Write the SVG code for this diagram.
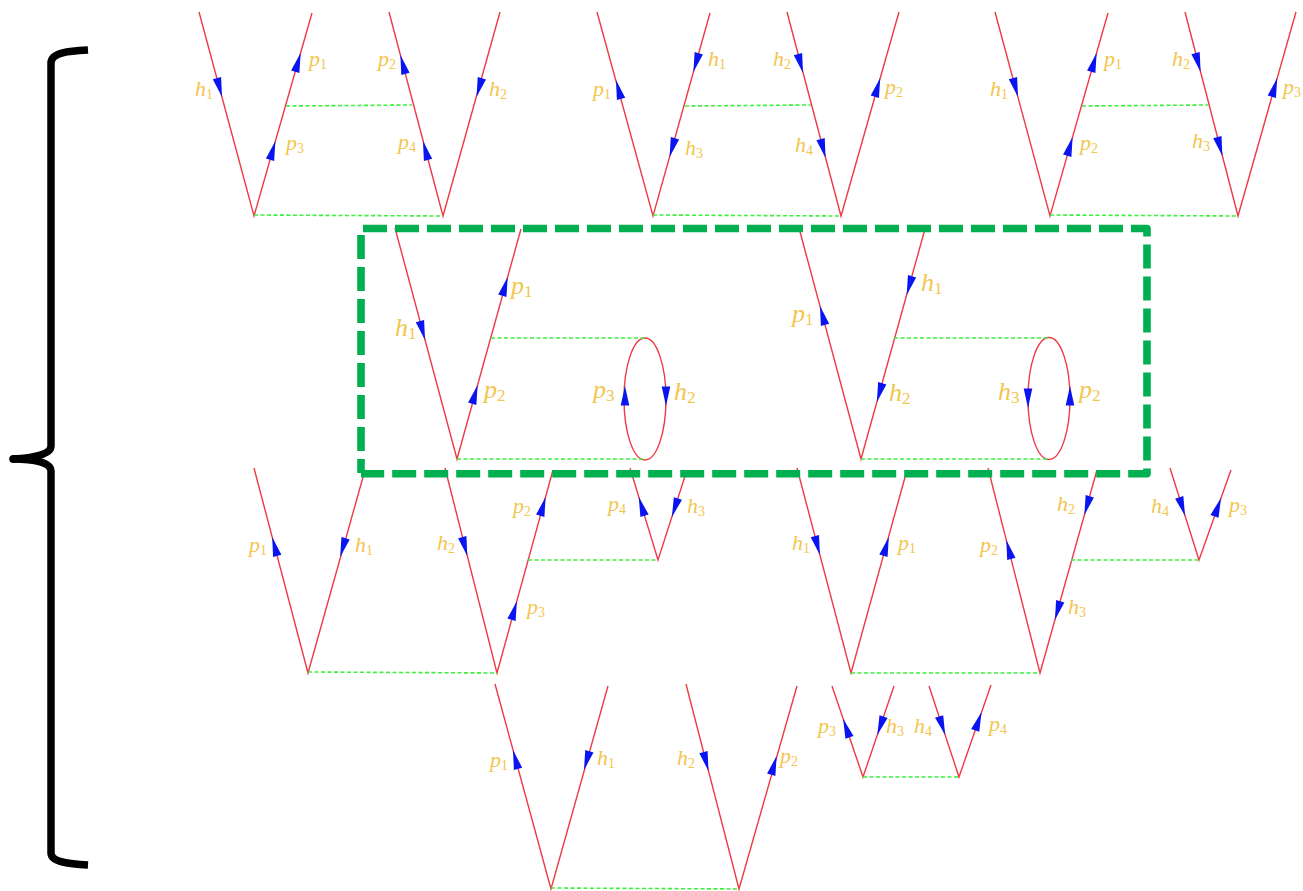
<svg xmlns="http://www.w3.org/2000/svg" width="1303" height="891" viewBox="0 0 1303 891">
<style>
.r{fill:none;stroke:#ee3a45;stroke-width:1.4}
.g{fill:none;stroke:#3cf03c;stroke-width:1.6;stroke-dasharray:4 2.5}
.t,.m{fill:#f2c64e;font-family:"Liberation Serif",serif}
.t{font-size:22px}
.m{font-size:26px}
.v{font-style:italic}
.t .s{font-size:14px}
.m .s{font-size:17px}
.a{fill:#0a14f0}
.h{fill:none;stroke:#00b050;stroke-width:7.600;stroke-dasharray:24 8;stroke-linejoin:round}
</style>
<defs><path id="a" d="M0,0L4.300,19.500L-4.300,19.500Z"/></defs>
<rect width="1303" height="891" fill="#fff"/>
<g id="connectors">
<path class="r" d="M199,12L254,216L312,13M389,12L443,216L500,12M597,12L653,216L710,13M787,12L841,216L899,12M995,12L1050,216L1108,13M1185,12L1238,216L1296,12"/>
<path class="r" d="M395,228L457,459L521,229M799,228L861,459L925,229"/>
<ellipse class="r" cx="645" cy="399" rx="21" ry="61"/>
<ellipse class="r" cx="1049" cy="398.500" rx="21" ry="61"/>
<path class="r" d="M254,468L308,673L365,470M445,468L497,673L553,470M630,468L658,560L687,470M797,468L851,673L907,470M988,468L1040,673L1097,470M1170,468L1199,560L1231,470"/>
<path class="r" d="M495,684L551,889L608,686M686,684L739,889L797,686M832,686L863,777L894,686M929,686L959,777L991,685"/>
<path class="g" d="M254,215L443,216M286,106L412,105M653,215L841,216M685,106L811,105M1050,215L1238,216M1082,106L1208,105"/>
<path class="g" d="M491,338H645M457,459H645M894,338H1049M861,459H1049"/>
<path class="g" d="M308,672L497,673M528,560H658M851,673H1040M1071,560H1199"/>
<path class="g" d="M551,888L739,889M863,777H959"/>
</g>
<g id="diagram-1">
<g class="a"><use href="#a" transform="translate(222,97) rotate(165)"/><use href="#a" transform="translate(300.600,53) rotate(16)"/><use href="#a" transform="translate(275.400,141) rotate(16)"/><use href="#a" transform="translate(400.400,55) rotate(-15)"/><use href="#a" transform="translate(423,141) rotate(-15)"/><use href="#a" transform="translate(476.500,97) rotate(196)"/></g>
<text class="t" x="195" y="96"><tspan class="v">h</tspan><tspan class="s" dy="3">1</tspan></text>
<text class="t" x="309" y="66"><tspan class="v">p</tspan><tspan class="s" dy="3">1</tspan></text>
<text class="t" x="286" y="150"><tspan class="v">p</tspan><tspan class="s" dy="3">3</tspan></text>
<text class="t" x="378" y="66"><tspan class="v">p</tspan><tspan class="s" dy="3">2</tspan></text>
<text class="t" x="398" y="149"><tspan class="v">p</tspan><tspan class="s" dy="3">4</tspan></text>
<text class="t" x="489" y="96"><tspan class="v">h</tspan><tspan class="s" dy="3">2</tspan></text>
</g>
<g id="diagram-2">
<g class="a"><use href="#a" transform="translate(616,80) rotate(-15)"/><use href="#a" transform="translate(693.400,72) rotate(196)"/><use href="#a" transform="translate(669.600,157) rotate(196)"/><use href="#a" transform="translate(803,73) rotate(165)"/><use href="#a" transform="translate(825.600,158) rotate(165)"/><use href="#a" transform="translate(880.200,78) rotate(16)"/></g>
<text class="t" x="593" y="96"><tspan class="v">p</tspan><tspan class="s" dy="3">1</tspan></text>
<text class="t" x="708" y="66"><tspan class="v">h</tspan><tspan class="s" dy="3">1</tspan></text>
<text class="t" x="685" y="155"><tspan class="v">h</tspan><tspan class="s" dy="3">3</tspan></text>
<text class="t" x="773" y="66"><tspan class="v">h</tspan><tspan class="s" dy="3">2</tspan></text>
<text class="t" x="795" y="152"><tspan class="v">h</tspan><tspan class="s" dy="3">4</tspan></text>
<text class="t" x="885" y="94"><tspan class="v">p</tspan><tspan class="s" dy="3">2</tspan></text>
</g>
<g id="diagram-3">
<g class="a"><use href="#a" transform="translate(1018,97) rotate(165)"/><use href="#a" transform="translate(1096.600,53) rotate(16)"/><use href="#a" transform="translate(1072.600,137) rotate(16)"/><use href="#a" transform="translate(1200.600,72) rotate(165)"/><use href="#a" transform="translate(1222.400,156) rotate(165)"/><use href="#a" transform="translate(1277.200,78) rotate(16)"/></g>
<text class="t" x="990" y="96"><tspan class="v">h</tspan><tspan class="s" dy="3">1</tspan></text>
<text class="t" x="1104" y="66"><tspan class="v">p</tspan><tspan class="s" dy="3">1</tspan></text>
<text class="t" x="1080" y="150"><tspan class="v">p</tspan><tspan class="s" dy="3">2</tspan></text>
<text class="t" x="1172" y="66"><tspan class="v">h</tspan><tspan class="s" dy="3">2</tspan></text>
<text class="t" x="1192" y="148"><tspan class="v">h</tspan><tspan class="s" dy="3">3</tspan></text>
<text class="t" x="1283" y="94"><tspan class="v">p</tspan><tspan class="s" dy="3">3</tspan></text>
</g>
<g id="diagram-4">
<g class="a"><use href="#a" transform="translate(425,340) rotate(165)"/><use href="#a" transform="translate(507.700,277) rotate(16)"/><use href="#a" transform="translate(477.600,385) rotate(16)"/><use href="#a" transform="translate(625,386)"/><use href="#a" transform="translate(666,406) rotate(180)"/></g>
<text class="m" x="395" y="336"><tspan class="v">h</tspan><tspan class="s" dy="3">1</tspan></text>
<text class="m" x="511" y="294"><tspan class="v">p</tspan><tspan class="s" dy="3">1</tspan></text>
<text class="m" x="484" y="398"><tspan class="v">p</tspan><tspan class="s" dy="3">2</tspan></text>
<text class="m" x="593" y="398"><tspan class="v">p</tspan><tspan class="s" dy="3">3</tspan></text>
<text class="m" x="674" y="400"><tspan class="v">h</tspan><tspan class="s" dy="3">2</tspan></text>
</g>
<g id="diagram-5">
<g class="a"><use href="#a" transform="translate(820,306) rotate(-15)"/><use href="#a" transform="translate(906.700,295) rotate(196)"/><use href="#a" transform="translate(876.900,402) rotate(196)"/><use href="#a" transform="translate(1028,408) rotate(180)"/><use href="#a" transform="translate(1070,386)"/></g>
<text class="m" x="792" y="322"><tspan class="v">p</tspan><tspan class="s" dy="3">1</tspan></text>
<text class="m" x="921" y="291"><tspan class="v">h</tspan><tspan class="s" dy="3">1</tspan></text>
<text class="m" x="889" y="401"><tspan class="v">h</tspan><tspan class="s" dy="3">2</tspan></text>
<text class="m" x="998" y="400"><tspan class="v">h</tspan><tspan class="s" dy="3">3</tspan></text>
<text class="m" x="1079" y="398"><tspan class="v">p</tspan><tspan class="s" dy="3">2</tspan></text>
</g>
<g id="diagram-6">
<g class="a"><use href="#a" transform="translate(272.200,537) rotate(-15)"/><use href="#a" transform="translate(340.200,557) rotate(196)"/><use href="#a" transform="translate(467.300,556) rotate(165)"/><use href="#a" transform="translate(545.600,497) rotate(16)"/><use href="#a" transform="translate(516.900,601) rotate(16)"/><use href="#a" transform="translate(638.800,497) rotate(-17)"/><use href="#a" transform="translate(671.900,517) rotate(198)"/></g>
<text class="t" x="249" y="552"><tspan class="v">p</tspan><tspan class="s" dy="3">1</tspan></text>
<text class="t" x="355" y="552"><tspan class="v">h</tspan><tspan class="s" dy="3">1</tspan></text>
<text class="t" x="437" y="550"><tspan class="v">h</tspan><tspan class="s" dy="3">2</tspan></text>
<text class="t" x="513" y="513"><tspan class="v">p</tspan><tspan class="s" dy="3">2</tspan></text>
<text class="t" x="527" y="614"><tspan class="v">p</tspan><tspan class="s" dy="3">3</tspan></text>
<text class="t" x="608" y="511"><tspan class="v">p</tspan><tspan class="s" dy="3">4</tspan></text>
<text class="t" x="687" y="513"><tspan class="v">h</tspan><tspan class="s" dy="3">3</tspan></text>
</g>
<g id="diagram-7">
<g class="a"><use href="#a" transform="translate(819.900,555) rotate(165)"/><use href="#a" transform="translate(888.800,537) rotate(16)"/><use href="#a" transform="translate(1006.300,540) rotate(-15)"/><use href="#a" transform="translate(1084.400,515) rotate(196)"/><use href="#a" transform="translate(1054.900,620) rotate(196)"/><use href="#a" transform="translate(1185.100,516) rotate(162.500)"/><use href="#a" transform="translate(1221,498) rotate(19.500)"/></g>
<text class="t" x="792" y="550"><tspan class="v">h</tspan><tspan class="s" dy="3">1</tspan></text>
<text class="t" x="898" y="550"><tspan class="v">p</tspan><tspan class="s" dy="3">1</tspan></text>
<text class="t" x="980" y="552"><tspan class="v">p</tspan><tspan class="s" dy="3">2</tspan></text>
<text class="t" x="1057" y="511"><tspan class="v">h</tspan><tspan class="s" dy="3">2</tspan></text>
<text class="t" x="1068" y="614"><tspan class="v">h</tspan><tspan class="s" dy="3">3</tspan></text>
<text class="t" x="1151" y="513"><tspan class="v">h</tspan><tspan class="s" dy="3">4</tspan></text>
<text class="t" x="1229" y="512"><tspan class="v">p</tspan><tspan class="s" dy="3">3</tspan></text>
</g>
<g id="diagram-8">
<g class="a"><use href="#a" transform="translate(513,750) rotate(-15)"/><use href="#a" transform="translate(584,770) rotate(196)"/><use href="#a" transform="translate(708.500,771) rotate(165)"/><use href="#a" transform="translate(776.600,756) rotate(16)"/></g>
<text class="t" x="490" y="767"><tspan class="v">p</tspan><tspan class="s" dy="3">1</tspan></text>
<text class="t" x="597" y="765"><tspan class="v">h</tspan><tspan class="s" dy="3">1</tspan></text>
<text class="t" x="677" y="765"><tspan class="v">h</tspan><tspan class="s" dy="3">2</tspan></text>
<text class="t" x="780" y="763"><tspan class="v">p</tspan><tspan class="s" dy="3">2</tspan></text>
</g>
<g id="diagram-9">
<g class="a"><use href="#a" transform="translate(843.200,719) rotate(-18.800)"/><use href="#a" transform="translate(877.300,735) rotate(198.800)"/><use href="#a" transform="translate(945.200,735) rotate(161.800)"/><use href="#a" transform="translate(981.600,712) rotate(19.200)"/></g>
<text class="t" x="818" y="733"><tspan class="v">p</tspan><tspan class="s" dy="3">3</tspan></text>
<text class="t" x="886" y="733"><tspan class="v">h</tspan><tspan class="s" dy="3">3</tspan></text>
<text class="t" x="914" y="733"><tspan class="v">h</tspan><tspan class="s" dy="3">4</tspan></text>
<text class="t" x="989" y="731"><tspan class="v">p</tspan><tspan class="s" dy="3">4</tspan></text>
</g>
<g id="highlight"><path class="h" d="M363,228.500H1147V473.700H361"/><path class="h" d="M361,235V473"/></g>
<g id="brace"><path d="M88,50C70,51 51,52 51,63L51,446C51,454 35,458 13,459C35,459 51,463 51,471L51,853C51,862 70,864 88,865" fill="none" stroke="#000" stroke-width="7.500" stroke-linejoin="round"/><circle cx="14" cy="459" r="4"/></g>
</svg>
